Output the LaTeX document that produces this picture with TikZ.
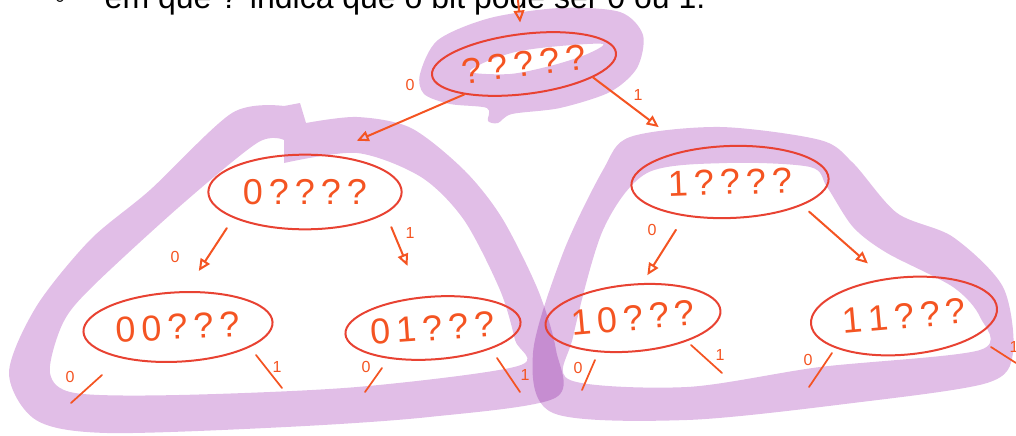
\documentclass[tikz,border=0pt]{standalone}
\usepackage{fontspec}
\setmainfont{Liberation Sans}
\usetikzlibrary{arrows,arrows.meta,shapes,calc,positioning}
\definecolor{lilac}{RGB}{225,190,231}
\definecolor{pen}{RGB}{244,84,34}
\definecolor{ink}{RGB}{232,66,50}

\begin{document}
\begin{tikzpicture}[x=0.75pt, y=-0.75pt,
	bitnode/.style={ellipse, draw=ink, line width=1.5pt, text=pen, inner sep=0pt, font=\fontsize{27}{30}\selectfont},
	link/.style={draw=pen, line width=1.5pt, line cap=round, -{Triangle[open, length=9pt, width=8pt]}},
	stub/.style={draw=pen, line width=1.3pt, line cap=round},
	bitlbl/.style={text=pen, inner sep=0pt, font=\fontsize{12}{13}\selectfont}]
	\useasboundingbox (0,0) rectangle (1016,435);
	\node[anchor=base west, font=\fontsize{24}{28}\selectfont] (caption) at (100,9) {em que ? indica que o bit pode ser 0 ou 1.};
	\node[anchor=base, font=\fontsize{24}{28}\selectfont] (bullet) at (60,9) {◦};
% highlighter marks
\begin{scope}[blend mode=multiply]
	\fill[lilac, even odd rule] plot[smooth cycle] coordinates {(420,74) (438,40) (490,18) (560,8) (620,12) (643,35) (637,68) (610,92) (560,108) (512,114) (498,123) (488,121) (487,108) (450,104) (424,94)}
		plot[smooth cycle] coordinates {(470,72) (490,60) (520,51) (560,46) (603,44) (585,55) (550,66) (510,74)};
	\fill[lilac, even odd rule] plot[smooth] coordinates {(306,123) (357,117) (411,128) (464,170) (502,218) (538,290) (556,350) (555,398) (429,417) (286,427) (107,433) (36,420) (9,373) (36,307) (90,240) (150,190) (232,113) (284,106)} -- (300,103) -- cycle
		plot[smooth] coordinates {(284,163) (357,153) (421,177) (464,220) (500,290) (515,340) (518,366) (357,387) (179,395) (75,393) (50,373) (62,325) (89,290) (179,207) (257,143) (284,140)} -- cycle;
	\fill[lilac, even odd rule] plot[smooth cycle] coordinates {(603,170) (630,137) (720,127) (820,140) (853,163) (897,213) (953,237) (1003,287) (1013,353) (987,383) (853,403) (687,420) (553,413) (533,353) (563,253)}
		plot[smooth cycle] coordinates {(647,173) (727,163) (810,167) (827,187) (853,227) (887,253) (953,287) (980,317) (980,350) (820,367) (687,387) (570,380) (573,337) (603,230)};
\end{scope}
% tree
	\node[bitnode, minimum width=139pt, minimum height=45pt, rotate=7] (root) at (524,64) {?\,?\,?\,?\,?};
	\node[bitnode, minimum width=145pt, minimum height=56pt] (n0) at (305,192) {0\,?\,?\,?\,?};
	\node[bitnode, minimum width=148pt, minimum height=54pt, rotate=2] (n1) at (730,182) {1\,?\,?\,?\,?};
	\node[bitnode, minimum width=142pt, minimum height=52pt, rotate=3] (n00) at (178,327) {0\,0\,?\,?\,?};
	\node[bitnode, minimum width=130pt, minimum height=47pt, rotate=4] (n01) at (433,328) {0\,1\,?\,?\,?};
	\node[bitnode, minimum width=123pt, minimum height=50pt, rotate=5] (n10) at (633,318) {1\,0\,?\,?\,?};
	\node[bitnode, minimum width=140pt, minimum height=58pt, rotate=5] (n11) at (904,316) {1\,1\,?\,?\,?};
	\coordinate (entry) at (518,0);
	\draw[link, shorten >=8pt] (entry) -- (root);
	\draw[link, shorten >=26pt] (root.200) -- (n0.62);
	\draw[link, shorten >=28pt] (root.342) -- (n1.140);
	\draw[link, shorten <=9pt, shorten >=18pt] (n0.200) -- (n00.75);
	\draw[link, shorten <=11pt, shorten >=25pt] (n0.345) -- (n01.108);
	\draw[link, shorten <=12pt, shorten >=7pt] (n1.215) -- (n10.70);
	\draw[link, shorten <=7pt, shorten >=17pt] (n1.340) -- (n11.112);
	\node[bitlbl] (e1) at (410,85) {0};
	\node[bitlbl] (e2) at (638,95) {1};
	\node[bitlbl] (e3) at (175,257) {0};
	\node[bitlbl] (e4) at (410,233) {1};
	\node[bitlbl] (e5) at (652,230) {0};
% leaves left open
	\foreach \nd/\dx/\dy/\ex/\ey/\lx/\ly/\bit [count=\i] in {
		n00/-76/48/-31/28/-108/50/0, n00/78/28/26/33/99/40/1,
		n01/-51/40/-17/24/-67/39/0, n01/64/30/23/34/92/47/1,
		n10/-38/42/-13/30/-55/50/0, n10/58/27/31/28/87/37/1,
		n11/-72/37/-23/34/-96/44/0, n11/87/31/25/16/110/31/1}
	{
		\draw[stub] (\nd) ++(\dx,\dy) -- ++(\ex,\ey);
		\node[bitlbl] (leaf\i) at ($(\nd)+(\lx,\ly)$) {\bit};
	}
\end{tikzpicture}
\end{document}
